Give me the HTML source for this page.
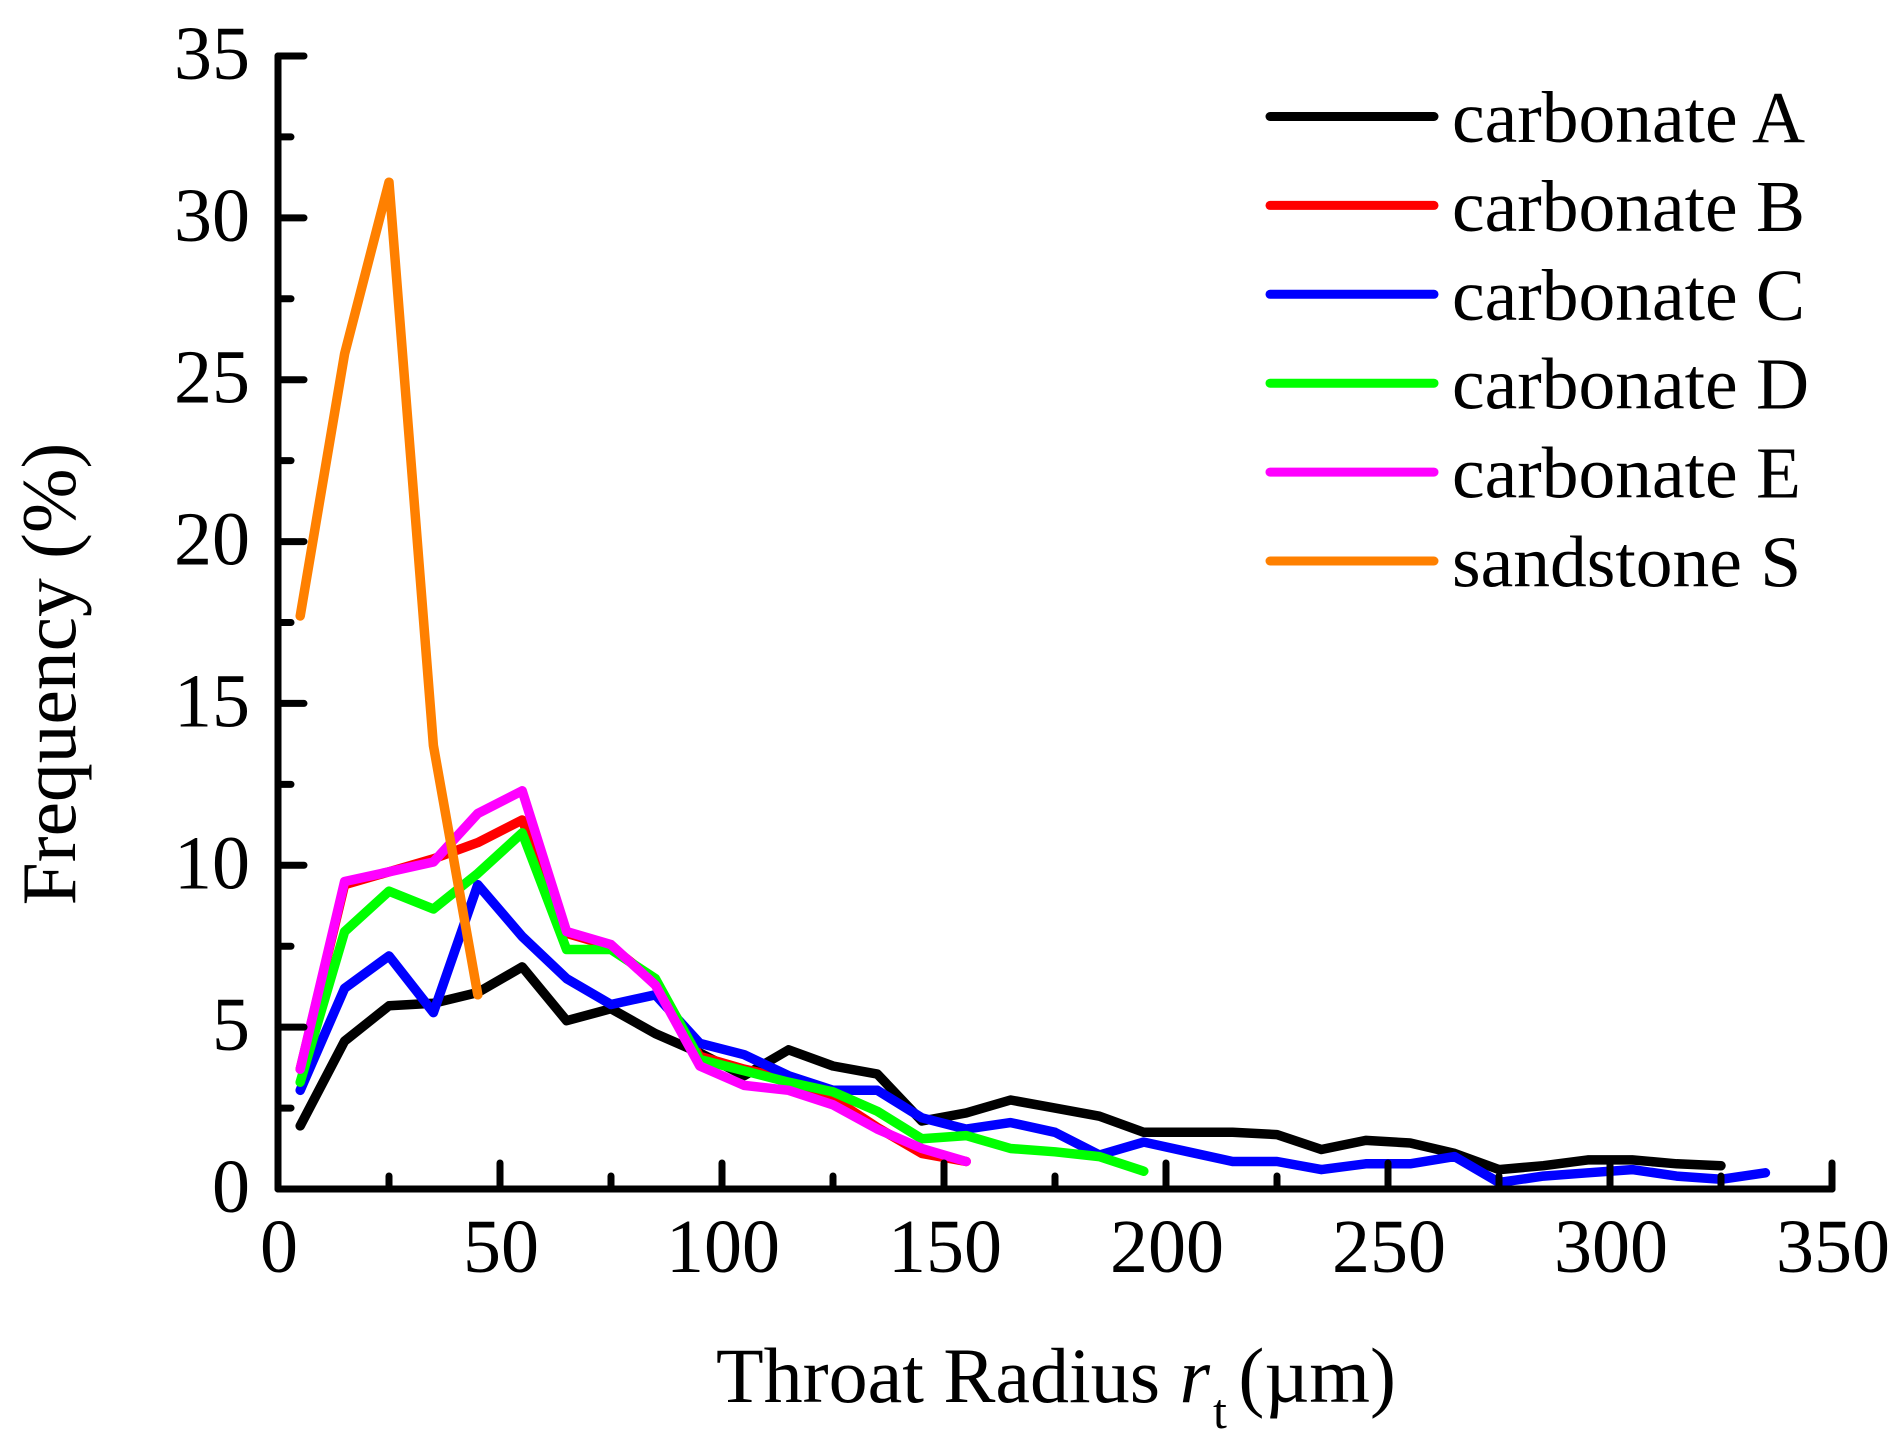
<!DOCTYPE html>
<html lang="en">
<head>
<meta charset="utf-8">
<title>Throat radius frequency chart</title>
<style>
  html, body { margin: 0; padding: 0; background: #fff; }
  svg { display: block; font-family: "Liberation Serif", serif; fill: #000; }
</style>
</head>
<body>
<svg id="chart" width="1903" height="1444" viewBox="0 0 1903 1444" xmlns="http://www.w3.org/2000/svg">
  <rect x="0" y="0" width="1903" height="1444" fill="#fff"></rect>
  <g id="series-layer"></g>
  <g id="axes-layer"></g>
  <g id="legend-layer"></g>
  <text x="716" y="1402" font-size="78">Throat Radius <tspan font-style="italic">r</tspan><tspan font-size="50" dy="26" dx="3">t</tspan><tspan dy="-26" dx="-8"> (µm)</tspan></text>
  <text transform="translate(75 674) rotate(-90)" text-anchor="middle" font-size="77.5">Frequency (%)</text>
</svg>
<script>
const binCentres = [5,15,25,35,45,55,65,75,85,95,105,115,125,135,145,155,165,175,185,195,205,215,225,235,245,255,265,275,285,295,305,315,325,335];
const carbonateA = [1.95,4.57,5.66,5.74,6.07,6.86,5.2,5.57,4.8,4.2,3.5,4.3,3.8,3.55,2.1,2.35,2.75,2.5,2.25,1.75,1.75,1.75,1.68,1.22,1.5,1.42,1.1,0.6,0.72,0.9,0.9,0.78,0.72];
const carbonateB = [3.7,9.4,9.8,10.2,10.7,11.4,7.9,7.5,6.4,4.1,3.7,3.4,2.8,1.9,1.1,0.85];
const carbonateC = [3.05,6.2,7.2,5.45,9.4,7.8,6.5,5.7,6.0,4.5,4.15,3.5,3.05,3.05,2.2,1.85,2.05,1.75,1.05,1.45,1.15,0.85,0.85,0.6,0.78,0.78,1.0,0.2,0.4,0.5,0.6,0.4,0.3,0.5];
const carbonateD = [3.3,7.95,9.2,8.65,9.75,11,7.4,7.4,6.5,4,3.65,3.3,3,2.4,1.55,1.65,1.25,1.15,1,0.55];
const carbonateE = [3.7,9.5,9.8,10.1,11.6,12.3,7.95,7.55,6.3,3.8,3.2,3.05,2.6,1.85,1.25,0.85];
const sandstoneS = [17.7,25.8,31.1,13.7,6];
const seriesNames = ["carbonate A","carbonate B","carbonate C","carbonate D","carbonate E","sandstone S"];
const seriesColors = ["#000000","#ff0000","#0000ff","#00ff00","#ff00ff","#ff8000"];
const seriesValues = [carbonateA,carbonateB,carbonateC,carbonateD,carbonateE,sandstoneS];
const xTickLabels = [0,50,100,150,200,250,300,350];
const yTickLabels = [0,5,10,15,20,25,30,35];

const NS = "http://www.w3.org/2000/svg";
const X0 = 278, X1 = 1832, Y0 = 1189, Y1 = 56;
const xDomainMax = xTickLabels[xTickLabels.length - 1];
const yDomainMax = yTickLabels[yTickLabels.length - 1];
function xScale(v) { return X0 + (v / xDomainMax) * (X1 - X0); }
function yScale(v) { return Y0 - (v / yDomainMax) * (Y0 - Y1); }

function make(tag, attrs, parent, text) {
  const el = document.createElementNS(NS, tag);
  for (const k in attrs) el.setAttribute(k, attrs[k]);
  if (text !== undefined) el.textContent = text;
  parent.appendChild(el);
  return el;
}

const seriesLayer = document.getElementById("series-layer");
const axesLayer = document.getElementById("axes-layer");
const legendLayer = document.getElementById("legend-layer");
const AXIS = { stroke: "#000", "stroke-width": 7, "stroke-linecap": "round", fill: "none" };

// Series lines
seriesValues.forEach(function (vals, i) {
  const pts = vals.map(function (v, j) { return xScale(binCentres[j]).toFixed(1) + "," + yScale(v).toFixed(1); }).join(" ");
  const line = make("polyline", { points: pts, fill: "none", stroke: seriesColors[i], "stroke-width": 9.5, "stroke-linejoin": "round", "stroke-linecap": "round" }, seriesLayer);
  
  
});

// Axis lines
const yAxisLine = make("line", Object.assign({ x1: X0, y1: Y0, x2: X0, y2: Y1 }, AXIS), axesLayer);


const xAxisLine = make("line", Object.assign({ x1: X0, y1: Y0, x2: X1, y2: Y0 }, AXIS), axesLayer);



// Y ticks and labels
yTickLabels.forEach(function (v, i) {
  const y = yScale(v);
  if (i > 0) {
    const tick = make("line", Object.assign({ x1: X0, y1: y, x2: X0 + 26, y2: y }, AXIS), axesLayer);
    
    
  }
  if (i < yTickLabels.length - 1) {
    const my = yScale((v + yTickLabels[i + 1]) / 2);
    const minor = make("line", Object.assign({ x1: X0, y1: my, x2: X0 + 13, y2: my }, AXIS), axesLayer);
    
    
  }
  const label = make("text", { x: 250, y: y + 23, "text-anchor": "end", "font-size": 76 }, axesLayer, String(v));
  
  
});

// X ticks and labels
xTickLabels.forEach(function (v, i) {
  const x = xScale(v);
  if (i > 0) {
    const tick = make("line", Object.assign({ x1: x, y1: Y0, x2: x, y2: Y0 - 26 }, AXIS), axesLayer);
    
    
  }
  if (i < xTickLabels.length - 1) {
    const mx = xScale((v + xTickLabels[i + 1]) / 2);
    const minor = make("line", Object.assign({ x1: mx, y1: Y0, x2: mx, y2: Y0 - 13 }, AXIS), axesLayer);
    
    
  }
  const label = make("text", { x: x + 1, y: 1272, "text-anchor": "middle", "font-size": 76 }, axesLayer, String(v));
  
  
});

// Legend
seriesNames.forEach(function (name, i) {
  const y = 116.5 + i * 88.9;
  const swatch = make("line", { x1: 1270, y1: y, x2: 1434, y2: y, stroke: seriesColors[i], "stroke-width": 9, "stroke-linecap": "round" }, legendLayer);
  
  
  const label = make("text", { x: 1452, y: y + 25.5, "font-size": 73.5 }, legendLayer, name);
  
  
});
</script>
</body>
</html>
